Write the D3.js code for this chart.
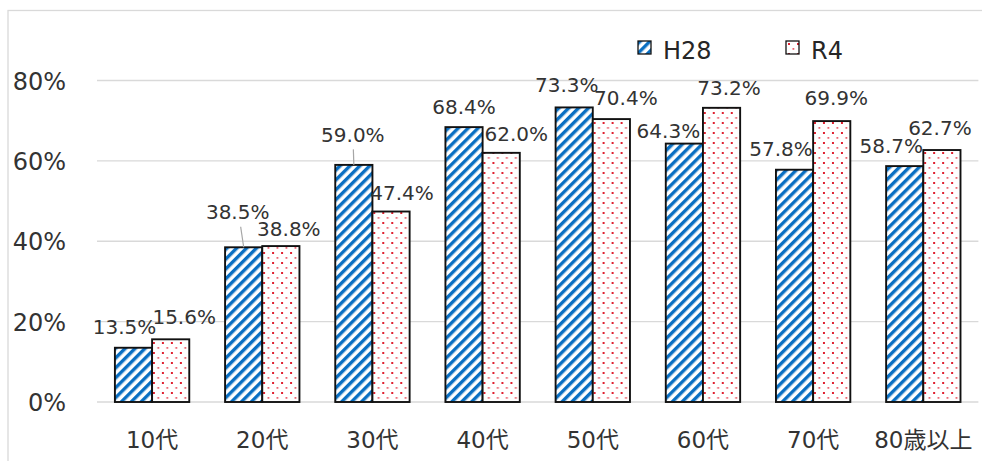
<!DOCTYPE html>
<html lang="ja">
<head>
<meta charset="utf-8">
<script src="https://cdn.jsdelivr.net/npm/d3@7"></script>
<style>
  html, body { margin: 0; padding: 0; background: #fff; }
  svg { display: block; }
</style>
</head>
<body>
<svg id="chart" width="982" height="461"></svg>
<script>
// --- data ---------------------------------------------------------------
const categories = ["10代", "20代", "30代", "40代", "50代", "60代", "70代", "80歳以上"];
const seriesNames = ["H28", "R4"];
const valuesH28 = [13.5, 38.5, 59.0, 68.4, 73.3, 64.3, 57.8, 58.7];
const valuesR4  = [15.6, 38.8, 47.4, 62.0, 70.4, 73.2, 69.9, 62.7];
const yTicks = [0, 20, 40, 60, 80];

// --- label placement (px nudges from bar centre / bar top) --------------
const labelDxH28 = [-9, -6, -1, 0, -7.5, -16, -13.5, -13.5];
const labelDyH28 = [-21, -35.5, -30.5, -20, -23, -13, -20.5, -20];
const labelDxR4  = [13.5, 8, 11, 15, 14.5, 7.5, 4.5, -2];
const labelDyR4  = [-23, -17.5, -19, -19.5, -21, -20, -23, -22];

// --- layout -------------------------------------------------------------
const W = 982, H = 461;
const plot = { left: 97, right: 978.4, top: 80.5, bottom: 402 };
const FONT = "'DejaVu Sans', 'Noto Sans CJK JP', sans-serif";
const TEXT = "#333333";
const BLUE = "#0a6fc2";
const RED = "#e02030";

const svg = d3.select("#chart");

// patterns: blue upward diagonal stripes, red dotted
const defs = svg.append("defs");
const stripe = defs.append("pattern")
  .attr("id", "pat-h28")
  .attr("patternUnits", "userSpaceOnUse")
  .attr("width", 7).attr("height", 7)
  .attr("patternTransform", "rotate(45)");
stripe.append("rect").attr("width", 7).attr("height", 7).attr("fill", "#fff");
stripe.append("rect").attr("width", 3.4).attr("height", 7).attr("fill", BLUE);

const dots = defs.append("pattern")
  .attr("id", "pat-r4")
  .attr("patternUnits", "userSpaceOnUse")
  .attr("width", 9).attr("height", 10);
dots.append("rect").attr("width", 9).attr("height", 10).attr("fill", "#fff");
dots.append("rect").attr("x", 2).attr("y", 2).attr("width", 2).attr("height", 2).attr("fill", RED);
dots.append("rect").attr("x", 6.5).attr("y", 7).attr("width", 1.8).attr("height", 1.8).attr("fill", RED).attr("opacity", 0.7);

// chart frame
svg.append("rect")
  .attr("x", 8).attr("y", 10.5)
  .attr("width", W + 20).attr("height", H + 20)
  .attr("fill", "none").attr("stroke", "#d9d9d9").attr("stroke-width", 1.3);

// scales
const x0 = d3.scaleBand()
  .domain(categories)
  .range([plot.left, plot.right])
  .paddingInner(0.325)
  .paddingOuter(0.1625);
const x1 = d3.scaleBand()
  .domain(seriesNames)
  .range([0, x0.bandwidth()]);
const y = d3.scaleLinear()
  .domain([0, 80])
  .range([plot.bottom, plot.top]);

// gridlines
svg.append("g")
  .selectAll("line")
  .data(yTicks)
  .join("line")
  .attr("x1", plot.left).attr("x2", plot.right)
  .attr("y1", d => y(d)).attr("y2", d => y(d))
  .attr("stroke", "#d9d9d9").attr("stroke-width", 1.3);

// y axis labels
const yAxis = d3.axisLeft(y)
  .tickValues(yTicks)
  .tickFormat(d => d + "%")
  .tickSize(0)
  .tickPadding(0);
const gy = svg.append("g")
  .attr("transform", "translate(66,0)")
  .call(yAxis);
gy.select(".domain").remove();
gy.selectAll("text")
  .attr("font-family", FONT).attr("font-size", 24)
  .attr("fill", TEXT).attr("dy", "0.36em");

// x axis labels
const xAxis = d3.axisBottom(x0).tickSize(0).tickPadding(0);
const gx = svg.append("g")
  .attr("transform", "translate(0,430)")
  .call(xAxis);
gx.select(".domain").remove();
gx.selectAll("text")
  .attr("font-family", FONT).attr("font-size", 23)
  .attr("fill", TEXT).attr("dy", "0.36em").attr("y", 10);

// bars
const rows = categories.map((c, i) => ({
  cat: c,
  items: [
    { key: "H28", v: valuesH28[i], dx: labelDxH28[i], dy: labelDyH28[i], fill: "url(#pat-h28)" },
    { key: "R4",  v: valuesR4[i],  dx: labelDxR4[i],  dy: labelDyR4[i],  fill: "url(#pat-r4)" }
  ]
}));

const groups = svg.append("g")
  .selectAll("g")
  .data(rows)
  .join("g")
  .attr("transform", d => `translate(${x0(d.cat)},0)`);

groups.selectAll("rect")
  .data(d => d.items)
  .join("rect")
  .attr("x", d => x1(d.key))
  .attr("y", d => y(d.v))
  .attr("width", x1.bandwidth())
  .attr("height", d => y(0) - y(d.v))
  .attr("fill", d => d.fill)
  .attr("stroke", "#111")
  .attr("stroke-width", 1.9);

// leader lines for labels lifted well clear of their bar
groups.selectAll("line.leader")
  .data(d => d.items.filter(it => it.dy < -28))
  .join("line")
  .attr("class", "leader")
  .attr("x1", d => x1(d.key) + x1.bandwidth() / 2 + d.dx / 2)
  .attr("y1", d => y(d.v) + d.dy + 15)
  .attr("x2", d => x1(d.key) + x1.bandwidth() / 2)
  .attr("y2", d => y(d.v))
  .attr("stroke", "#a6a6a6").attr("stroke-width", 1.2);

// value labels
groups.selectAll("text.val")
  .data(d => d.items)
  .join("text")
  .attr("class", "val")
  .attr("x", d => x1(d.key) + x1.bandwidth() / 2 + d.dx)
  .attr("y", d => y(d.v) + d.dy)
  .attr("dy", "0.36em")
  .attr("text-anchor", "middle")
  .attr("font-family", FONT).attr("font-size", 20)
  .attr("fill", TEXT)
  .text(d => d.v.toFixed(1) + "%");

// legend
const legendItems = [
  { name: seriesNames[0], fill: "url(#pat-h28)", x: 638 },
  { name: seriesNames[1], fill: "url(#pat-r4)", x: 786 }
];
const lg = svg.append("g").selectAll("g")
  .data(legendItems)
  .join("g")
  .attr("transform", d => `translate(${d.x},41)`);
lg.append("rect")
  .attr("width", 13).attr("height", 13)
  .attr("fill", d => d.fill)
  .attr("stroke", "#111").attr("stroke-width", 1.3);
lg.append("text")
  .attr("x", 25).attr("y", 18)
  .attr("font-family", FONT).attr("font-size", 24)
  .attr("fill", "#262626")
  .text(d => d.name);
</script>
</body>
</html>
